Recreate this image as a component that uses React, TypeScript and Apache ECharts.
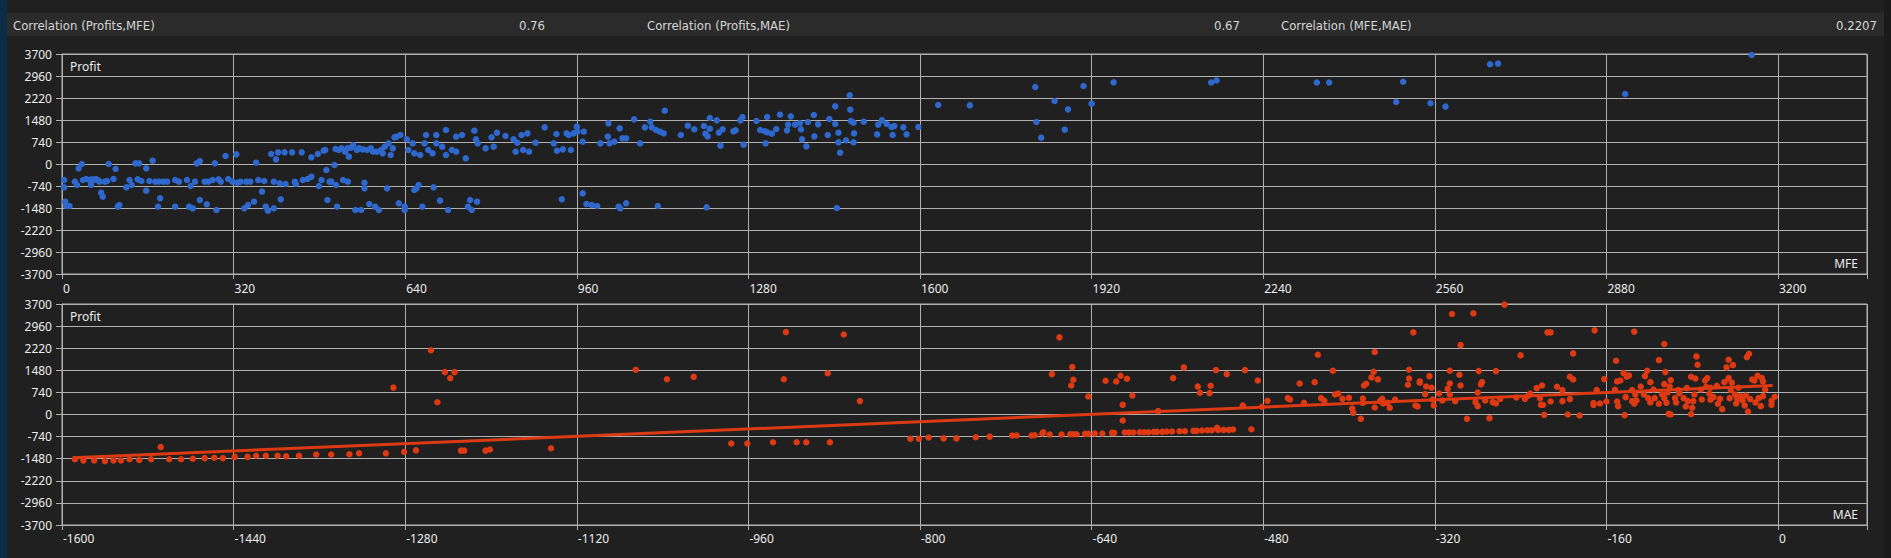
import { useEffect, useRef } from 'react';
import * as echarts from 'echarts';

// header figures
const correlationLabels = ['Correlation (Profits,MFE)', 'Correlation (Profits,MAE)', 'Correlation (MFE,MAE)'];
const correlationValues = ['0.76', '0.67', '0.2207'];

// axis ranges
const profitRange = { min: -3700, max: 3700, step: 740 };
const mfeRange = { min: 0, max: 3366, step: 320 };
const maeRange = { min: -1600, max: 83, step: 160 };

// [MFE, Profit]
const mfeProfit: [number, number][] = [
  [4, -538], [4, -785], [6, -1267], [8, -1412], [14, -1412], [24, -594], [28, -706], [31, -146], [37, 0], [39, -538],
  [45, -504], [51, -538], [54, -706], [56, -516], [59, -538], [63, -504], [67, -538], [70, -594], [73, -964], [76, -1099],
  [80, -594], [84, -572], [87, 0], [96, -504], [100, -168], [104, -1435], [107, -1379], [120, -785], [126, -538], [130, -706],
  [137, 22], [141, -516], [144, 22], [148, -572], [157, -146], [157, -897], [163, -572], [169, 112], [174, -594], [181, -594],
  [183, -1155], [179, -1435], [189, -594], [196, -594], [211, -1435], [211, -538], [218, -594], [233, -538], [237, -1435], [240, -740],
  [244, -1491], [248, -594], [251, 22], [257, 101], [257, -1211], [266, -594], [270, -1356], [273, -594], [281, -538], [285, 22],
  [288, -1547], [292, -516], [296, -594], [305, 269], [310, -504], [318, -594], [325, 325], [327, -628], [333, -594], [340, -1491],
  [344, -594], [347, -1379], [351, -594], [358, -1267], [362, 45], [366, -538], [373, -930], [377, -572], [380, -1435], [384, -1569],
  [390, 336], [395, -1491], [395, -594], [399, 157], [403, 392], [406, -650], [408, -1188], [415, 392], [417, -673], [429, 392],
  [434, -594], [436, -673], [447, 392], [449, -538], [458, -504], [465, 224], [465, -426], [477, 336], [479, -740], [484, -538],
  [488, 448], [491, 471], [493, -202], [495, -1211], [499, -594], [502, -594], [508, -34], [510, 504], [511, -706], [513, -1435],
  [516, 471], [521, 527], [524, -538], [528, 415], [532, 527], [533, -594], [535, 247], [539, 549], [543, 639], [547, -1547],
  [550, 471], [554, 527], [558, -1547], [561, 493], [564, -628], [564, -818], [569, 471], [573, -1345], [576, 527], [580, 415],
  [584, -1435], [587, 415], [591, -1547], [595, 471], [598, 359], [602, 583], [606, -818], [609, 695], [613, 303], [617, 527],
  [620, 897], [624, 919], [628, -1323], [631, 975], [639, -1435], [639, -1547], [643, 830], [646, 471], [654, 695], [657, 359],
  [657, -874], [661, -818], [665, -706], [668, 303], [672, -1435], [676, 695], [679, 975], [683, 471], [691, 359], [693, -785],
  [698, 975], [698, 695], [705, -1233], [709, 583], [716, 1143], [716, 303], [720, -1547], [727, 471], [735, 415], [735, 919],
  [746, 975], [753, 191], [757, -1435], [761, -1211], [764, -1547], [769, 1121], [772, 830], [774, -1267], [775, 695], [790, 527],
  [801, 897], [805, 583], [811, 1054], [827, 942], [842, 830], [846, 415], [849, 717], [857, 975], [860, 471], [868, 1031],
  [871, 415], [883, 717], [900, 1233], [917, 695], [922, 1009], [923, 448], [932, -1188], [934, 493], [941, 1031], [945, 975],
  [949, 471], [954, 1031], [960, 1256], [961, 1087], [971, 751], [971, -986], [973, 1087], [978, -1345], [988, -1379], [998, -1412],
  [1004, 695], [1018, 919], [1019, 1368], [1021, 695], [1030, 751], [1038, -1435], [1040, 1199], [1041, -1491], [1045, 863], [1052, -1323],
  [1052, 863], [1067, 1502], [1078, 695], [1087, 1233], [1097, 1424], [1100, 1233], [1108, 1143], [1111, -1412], [1115, 1087], [1122, 1031],
  [1124, 1794], [1154, 975], [1167, 1289], [1179, 1166], [1197, 1278], [1200, 1020], [1204, 930], [1208, 1547], [1208, 1188], [1221, 1468],
  [1225, 1054], [1228, 617], [1232, 1166], [1252, 1099], [1256, 1132], [1265, 1468], [1269, 1581], [1271, 650], [1295, 1446], [1302, 1143],
  [1311, 1099], [1312, 695], [1315, 1581], [1315, 1065], [1324, 1020], [1332, 1177], [1339, 1659], [1352, 1132], [1354, 1323], [1359, 1603],
  [1367, 1323], [1376, 1379], [1378, 1166], [1380, 830], [1388, 594], [1391, 1412], [1402, 1648], [1403, 930], [1410, 1334], [1428, 975],
  [1431, 1513], [1442, 1939], [1442, 1345], [1448, 1054], [1448, 729], [1451, 381], [1462, 796], [1469, 2309], [1470, 1827], [1471, 1446],
  [1476, 1390], [1476, 729], [1477, 1031], [1495, 1424], [1520, 998], [1522, 1323], [1529, 1468], [1538, 1345], [1547, 1244], [1549, 975],
  [1552, 1278], [1569, 1233], [1575, 998], [1597, 1244], [1634, 1984], [1693, 1973], [1815, 2590], [1817, 1412], [1826, 886], [1851, 2119],
  [1870, 1155], [1876, 1838], [1905, 2623], [1920, 2029], [1961, 2746], [1202, -1457], [1445, -1480],
  [2143, 2743], [2153, 2810], [2340, 2743], [2363, 2743], [2501, 2765], [2488, 2086], [2552, 2042], [2580, 1930],
  [2663, 3355], [2678, 3377], [2915, 2353], [3151, 3667],
];

// [MAE, Profit]
const maeProfit: [number, number][] = [
  [-1588, -1500], [-1580, -1540], [-1570, -1540], [-1560, -1560], [-1552, -1540], [-1545, -1540], [-1537, -1500], [-1528, -1520],
  [-1517, -1500], [-1508, -1090], [-1500, -1500], [-1489, -1500], [-1478, -1480], [-1467, -1460], [-1458, -1450], [-1450, -1460],
  [-1439, -1420], [-1427, -1420], [-1419, -1380], [-1410, -1380], [-1399, -1380], [-1391, -1400], [-1379, -1380], [-1363, -1340],
  [-1349, -1340], [-1332, -1330], [-1323, -1300], [-1298, -1300], [-1281, -1250], [-1270, -1200],
  [-1291, 900], [-1250, 410], [-1256, 2150], [-1243, 1420], [-1238, 1220], [-1234, 1420], [-1228, -1210], [-1225, -1210],
  [-1205, -1210], [-1201, -1170], [-1144, -1130], [-1065, 1500], [-1036, 1180], [-1011, 1260], [-976, -970], [-961, -970],
  [-937, -930], [-927, 1180], [-925, 2760], [-915, -930], [-906, -930], [-886, 1380], [-884, -930], [-871, 2680], [-856, 450],
  [-809, -810], [-801, -810], [-792, -770], [-778, -800], [-766, -800], [-748, -760], [-735, -740],
  [-714, -704], [-710, -704], [-696, -704], [-693, -693], [-686, -637], [-685, -593], [-679, -671], [-668, -671], [-660, -660],
  [-657, -660], [-654, -660], [-646, -648], [-643, -648], [-637, -637], [-630, -637], [-621, -615], [-619, -615], [-609, -604],
  [-605, -604], [-601, -604], [-595, -593], [-591, -593], [-587, -593], [-582, -581], [-579, -581], [-574, -581], [-570, -570],
  [-565, -570], [-558, -559], [-553, -559], [-545, -548], [-542, -548], [-537, -537], [-532, -526], [-528, -526], [-523, -447],
  [-522, -514], [-517, -514], [-512, -514], [-508, -503],
  [-670, 2583], [-677, 1353], [-658, 1588], [-657, 1163], [-659, 973], [-643, 604], [-627, 1129], [-617, 1107], [-613, 1297],
  [-607, 1196], [-602, 637], [-611, 324], [-611, -201], [-578, 112], [-564, 1219], [-554, 1576], [-541, 939], [-539, 727],
  [-530, 716], [-529, 961], [-524, 1487], [-514, 1353], [-499, 302], [-497, 1487], [-491, -492], [-485, 1140], [-481, 257],
  [-476, 458], [-457, 548], [-455, 503], [-446, 1040], [-442, 391], [-432, 1084], [-429, 2001], [-426, 548], [-423, 458],
  [-415, 1465], [-413, 671], [-410, 704], [-406, 525], [-400, 559], [-397, 201], [-396, 56], [-389, -145], [-387, 537],
  [-387, 391], [-386, 973], [-384, 1029], [-379, 1241], [-377, 1431], [-376, 2091], [-376, 235], [-373, 1174], [-371, 447],
  [-369, 525], [-368, 369], [-364, 391], [-362, 224], [-357, 503], [-345, 995], [-344, 1207], [-344, 1498], [-340, 2750],
  [-338, 302], [-336, 268], [-334, 1062], [-334, 1107], [-328, 939], [-329, 682], [-325, 1286],
  [-323, 894], [-321, 302], [-322, 503], [-316, 704], [-313, 470], [-308, 861], [-306, 671], [-306, 1040], [-306, 1465],
  [-304, 3365], [-301, 447], [-297, 1330], [-296, 2325], [-296, 973], [-290, -145], [-284, 3388], [-282, 414], [-280, 280],
  [-280, 738], [-279, 1453], [-277, 1006], [-276, 1084], [-273, 470], [-269, -123], [-266, 414], [-263, 369], [-263, 1453],
  [-259, 525], [-255, 3678], [-244, 570], [-240, 1979], [-236, 525], [-233, 626], [-231, 704], [-225, 883], [-222, 548],
  [-221, 324], [-219, 324], [-220, 973], [-218, -11], [-215, 2750], [-212, 2750], [-212, 436], [-206, 928], [-201, 816],
  [-201, 447], [-196, 0], [-194, 514], [-194, 1263], [-191, 2046], [-191, 1174], [-185, -34], [-172, 380], [-172, 324],
  [-171, 2817], [-169, 816], [-166, 369], [-162, 1185], [-160, 436], [-152, 827], [-151, 1800], [-150, 1107], [-150, 436],
  [-149, 280], [-147, 1140], [-144, 1386], [-143, -22], [-142, 581], [-141, 1263], [-139, 1308], [-136, 816], [-136, 447],
  [-134, 2773], [-134, 358], [-133, 671], [-132, 470], [-128, 939], [-125, 671], [-124, 1286], [-122, 1465], [-121, 548],
  [-119, 402], [-119, 1084], [-116, 838], [-115, 548], [-111, 1822], [-111, 358], [-108, 671], [-106, 2359], [-106, 1017],
  [-106, 548], [-105, 1420], [-104, 391], [-103, 738], [-102, 22], [-101, 939], [-100, 0], [-100, 1152], [-96, 548],
  [-95, 402], [-93, 816], [-92, 716], [-88, 548], [-86, 268], [-85, 883], [-84, 447], [-81, 1263], [-81, 11], [-80, 224],
  [-79, 447], [-78, 671], [-77, 1207], [-76, 1945], [-75, 1666], [-72, 838], [-71, 503], [-68, 1140], [-67, 928], [-66, 1219],
  [-64, 693], [-63, 492], [-63, 894], [-60, 581], [-57, 962], [-56, 358], [-54, 525], [-52, 179], [-50, 1084], [-48, 1576],
  [-46, 1834], [-46, 1219], [-45, 548], [-44, 816], [-43, 1062], [-42, 1655], [-40, 671], [-39, 369], [-38, 514], [-37, 894],
  [-35, 615], [-33, 470], [-31, 302], [-30, 637], [-29, 1923], [-28, 101], [-27, 2035], [-26, 514], [-24, 1174], [-22, 1140],
  [-21, 402], [-19, 1297], [-18, 548], [-16, 280], [-15, 1219], [-14, 1107], [-14, 615], [-12, 838], [-6, 458], [-6, 324],
  [-3, 593],
];

// fitted line drawn over the MAE plot
const maeTrend: [number, number][] = [[-1590, -1450], [-5, 975]];

const uiFont = "'Noto Sans', 'Open Sans', 'DejaVu Sans', sans-serif";
const headerFont = "'Liberation Sans Narrow', 'DejaVu Sans Condensed', 'Noto Sans', sans-serif";
const lineColor = '#b0b0b0';
const textColor = '#ececec';

function stepLabel(step: number) {
  return (v: number) => (Math.round(v) % step === 0 ? String(Math.round(v)) : '');
}

export default function App() {
  const chartRef = useRef<HTMLDivElement>(null);

  useEffect(() => {
    if (!chartRef.current) return;
    const chart = echarts.init(chartRef.current, undefined, { renderer: 'svg' });

    const grids = [
      { left: 62, top: 54, width: 1805, height: 220 },
      { left: 62, top: 304, width: 1805, height: 221 },
    ];

    const xAxisBase = (idx: number, range: { min: number; max: number; step: number }, margin: number) => ({
      type: 'value' as const,
      gridIndex: idx,
      min: range.min,
      max: range.max,
      interval: range.step,
      axisLine: { show: true, onZero: false, lineStyle: { color: lineColor } },
      axisTick: { show: true, length: 5, lineStyle: { color: lineColor } },
      axisLabel: {
        color: textColor,
        fontFamily: uiFont,
        fontSize: 12,
        align: 'left' as const,
        margin,
        padding: [0, 0, 0, 1],
        formatter: stepLabel(range.step),
      },
      splitLine: { show: true, lineStyle: { color: lineColor, width: 1 } },
    });

    const yAxisBase = (idx: number) => ({
      type: 'value' as const,
      gridIndex: idx,
      min: profitRange.min,
      max: profitRange.max,
      interval: profitRange.step,
      axisLine: { show: true, onZero: false, lineStyle: { color: lineColor } },
      axisTick: { show: true, length: 6, lineStyle: { color: lineColor } },
      axisLabel: {
        color: textColor,
        fontFamily: uiFont,
        fontSize: 12,
        margin: 10,
        formatter: (v: number) => String(v),
      },
      splitLine: { show: true, lineStyle: { color: lineColor, width: 1 } },
    });

    const headerX = [13, 647, 1281];
    const valueRight = [545, 1240, 1877];

    const graphic: any[] = [
      { type: 'rect', shape: { x: 0, y: 0, width: 7, height: 558 }, style: { fill: '#0c2b46' }, silent: true },
      { type: 'rect', shape: { x: 1884, y: 0, width: 7, height: 558 }, style: { fill: '#1a1a1a' }, silent: true },
      { type: 'rect', shape: { x: 7, y: 13, width: 1877, height: 23 }, style: { fill: '#2b2b2b' }, silent: true },
    ];
    correlationLabels.forEach((label, i) => {
      graphic.push({
        type: 'text', x: headerX[i], y: 25, silent: true,
        style: { text: label, fill: '#d6d6d6', font: `13px ${headerFont}`, textAlign: 'left', textVerticalAlign: 'middle' },
      });
      graphic.push({
        type: 'text', x: valueRight[i], y: 25, silent: true,
        style: { text: correlationValues[i], fill: '#d6d6d6', font: `13px ${headerFont}`, textAlign: 'right', textVerticalAlign: 'middle' },
      });
    });
    grids.forEach((g, i) => {
      graphic.push({
        type: 'text', x: g.left + 8, y: g.top + 12, z: 50, silent: true,
        style: { text: 'Profit', fill: textColor, font: `12px ${uiFont}`, textAlign: 'left', textVerticalAlign: 'middle' },
      });
      graphic.push({
        type: 'text', x: g.left + g.width - 9, y: g.top + g.height - 11, z: 50, silent: true,
        style: { text: i === 0 ? 'MFE' : 'MAE', fill: textColor, font: `12px ${uiFont}`, textAlign: 'right', textVerticalAlign: 'middle' },
      });
    });

    const option: echarts.EChartsOption = {
      backgroundColor: '#202020',
      animation: false,
      grid: grids.map(g => ({ ...g, show: true, borderColor: '#b3b3b3', borderWidth: 1, backgroundColor: 'transparent' })),
      xAxis: [xAxisBase(0, mfeRange, 8), xAxisBase(1, maeRange, 7)],
      yAxis: [yAxisBase(0), yAxisBase(1)],
      graphic,
      series: [
        {
          name: 'MFE',
          type: 'scatter',
          xAxisIndex: 0,
          yAxisIndex: 0,
          data: mfeProfit,
          symbolSize: 6.5,
          itemStyle: { color: '#2f68cd', opacity: 1 },
        },
        {
          name: 'MAE',
          type: 'scatter',
          xAxisIndex: 1,
          yAxisIndex: 1,
          data: maeProfit,
          symbolSize: 6.5,
          itemStyle: { color: '#dd3a13', opacity: 1 },
        },
        {
          name: 'MAE trend',
          type: 'line',
          xAxisIndex: 1,
          yAxisIndex: 1,
          data: maeTrend,
          showSymbol: false,
          lineStyle: { color: '#dd3a13', width: 3 },
          z: 3,
        },
      ],
    };

    chart.setOption(option);
    return () => {
      chart.dispose();
    };
  }, []);

  return (
    <div
      ref={chartRef}
      style={{ position: 'fixed', left: 0, top: 0, width: 1891, height: 558 }}
    />
  );
}
